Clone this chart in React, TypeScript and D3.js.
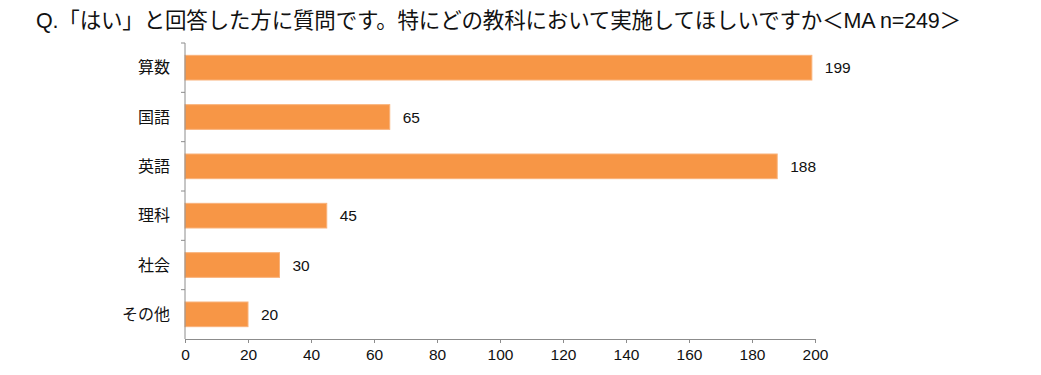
import * as d3 from "d3";
import { useRef, useEffect } from "react";

const title = "Q.「はい」と回答した方に質問です。特にどの教科において実施してほしいですか＜MA n=249＞";
const categories = ["算数", "国語", "英語", "理科", "社会", "その他"];
const counts = [199, 65, 188, 45, 30, 20];
const xTicks = [0, 20, 40, 60, 80, 100, 120, 140, 160, 180, 200];

const width = 1041;
const height = 375;
const marginTop = 43;
const marginLeft = 185;
const marginRight = 226;
const marginBottom = 36;

export default function App() {
  const containerRef = useRef<HTMLDivElement | null>(null);

  useEffect(() => {
    d3.select(containerRef.current).selectAll("svg").remove();

    const x = d3.scaleLinear().domain([0, 200]).range([marginLeft, width - marginRight]);
    const y = d3.scaleBand<string>()
      .domain(categories)
      .range([marginTop, height - marginBottom])
      .paddingInner(0.5)
      .paddingOuter(0.25);
    const font = "'Liberation Sans', 'Noto Sans CJK JP', sans-serif";
    const axisColor = "#8c8c8c";

    const svg = d3.create("svg")
      .attr("width", width)
      .attr("height", height)
      .attr("viewBox", [0, 0, width, height])
      .style("display", "block")
      .style("background", "#fff");

    svg.append("text")
      .attr("x", 36)
      .attr("y", 28)
      .attr("font-family", font)
      .attr("font-size", 21.5)
      .attr("fill", "#111")
      .attr("textLength", 925)
      .attr("lengthAdjust", "spacing")
      .text(title);

    // bars
    svg.append("g")
      .selectAll("rect")
      .data(categories)
      .join("rect")
      .attr("x", x(0))
      .attr("y", d => y(d)!)
      .attr("width", (d, i) => x(counts[i]) - x(0))
      .attr("height", y.bandwidth())
      .attr("fill", "#f79646")
      .attr("stroke", "#f9b27a")
      .attr("stroke-width", 1);

    // value labels
    svg.append("g")
      .selectAll("text")
      .data(categories)
      .join("text")
      .attr("x", (d, i) => x(counts[i]) + 13)
      .attr("y", d => y(d)! + y.bandwidth() / 2)
      .attr("dy", "0.36em")
      .attr("font-family", font)
      .attr("font-size", 15.5)
      .attr("fill", "#111")
      .text((d, i) => counts[i]);

    // y axis: line with ticks between categories
    const yAxis = svg.append("g");
    const y0 = marginTop;
    const y1 = height - marginBottom;
    yAxis.append("line")
      .attr("x1", x(0)).attr("x2", x(0))
      .attr("y1", y0).attr("y2", y1)
      .attr("stroke", axisColor);
    const step = y.step();
    yAxis.selectAll("line.tick")
      .data(d3.range(categories.length))
      .join("line")
      .attr("class", "tick")
      .attr("x1", x(0) - 4).attr("x2", x(0))
      .attr("y1", i => y(categories[i])! - step * 0.25)
      .attr("y2", i => y(categories[i])! - step * 0.25)
      .attr("stroke", axisColor);

    yAxis.selectAll("text")
      .data(categories)
      .join("text")
      .attr("x", x(0) - 15)
      .attr("y", d => y(d)! + y.bandwidth() / 2)
      .attr("dy", "0.36em")
      .attr("text-anchor", "end")
      .attr("font-family", font)
      .attr("font-size", 16)
      .attr("fill", "#111")
      .text(d => d);

    // x axis
    const xAxis = svg.append("g")
      .attr("transform", `translate(0,${y1})`)
      .call(d3.axisBottom(x).tickValues(xTicks).tickSize(4).tickPadding(6).tickSizeOuter(0));
    xAxis.select(".domain").attr("stroke", axisColor);
    xAxis.selectAll(".tick line").attr("stroke", axisColor);
    xAxis.selectAll(".tick text")
      .attr("font-family", font)
      .attr("font-size", 15.5)
      .attr("fill", "#111");

    const node = svg.node();
    if (containerRef.current && node) containerRef.current.appendChild(node);
  }, []);

  return <div ref={containerRef} style={{ margin: -8 }}></div>;
}
